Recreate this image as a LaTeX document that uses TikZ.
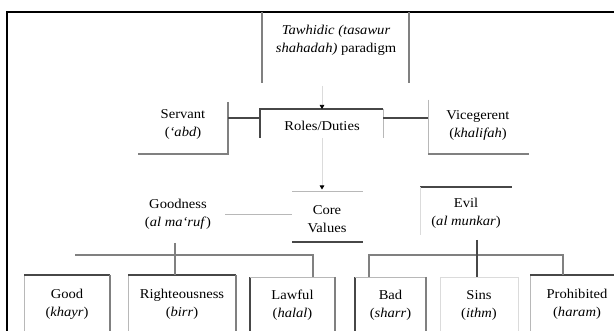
\documentclass[tikz,border=0pt]{standalone}
\usepackage{fontspec}
\setmainfont[FakeStretch=1.08]{Liberation Serif}
\usetikzlibrary{arrows.meta}
\begin{document}
\begin{tikzpicture}[x=1pt,y=-1pt,
 box/.style={inner sep=0pt, outer sep=0pt, minimum width=#1},
 txt/.style={align=center, font=\fontsize{13.5}{18}\selectfont, inner sep=0pt},
 dk/.style={draw=black!72, line width=1.4pt},
 md/.style={draw=black!50, line width=1.1pt},
 lt/.style={draw=black!28, line width=0.8pt},
 vl/.style={draw=black!14, line width=0.7pt},
 arr/.style={-{Triangle[length=4pt,width=4.5pt,black]}},
]
\useasboundingbox (0,0) rectangle (614,331);
\clip (0,0) rectangle (614,331);
\fill[white] (0,0) rectangle (614,331);
% outer frame
\draw[black, line width=2pt] (7,340) -- (7,12) -- (620,12);

% box shapes
\node[box=147, minimum height=71] (top) at (335.5,47.5) {};
\node[box=123, minimum height=29] (roles) at (321.5,123.5) {};
\node[box=90, minimum height=52] (servant) at (183,128) {};
\node[box=101, minimum height=54] (vice) at (478.5,127) {};
\node[box=71, minimum height=51] (core) at (327.5,216.5) {};
\node[box=92, minimum height=48] (evil) at (466,211) {};
\node[box=86, minimum height=70] (good) at (67,310) {};
\node[box=108, minimum height=70] (right) at (182,310) {};
\node[box=85, minimum height=68] (lawful) at (292.5,311) {};
\node[box=71, minimum height=68] (bad) at (390.5,311) {};
\node[box=78, minimum height=68] (sins) at (479,311) {};
\node[box=94, minimum height=70] (prohib) at (577,310) {};

% texts
\node[txt] (top-t) at (336,40) {\textit{Tawhidic (tasawur}\\\textit{shahadah)} paradigm};
\node[txt] (roles-t) at (322,126) {Roles/Duties};
\node[txt] (servant-t) at (183,124.5) {Servant\\(\textit{‘abd})};
\node[txt] (vice-t) at (478,125) {Vicegerent\\(\textit{khalifah})};
\node[txt] (core-t) at (327,219) {Core\\Values};
\node[txt] (goodness-t) at (178,214.5) {Goodness\\(\textit{al ma‘ruf})};
\node[txt] (evil-t) at (466,213.5) {Evil\\(\textit{al munkar})};
\node[txt] (good-t) at (67,304) {Good\\(\textit{khayr})};
\node[txt] (right-t) at (182,304) {Righteousness\\(\textit{birr})};
\node[txt] (lawful-t) at (292.5,305) {Lawful\\(\textit{halal})};
\node[txt] (bad-t) at (390.5,305) {Bad\\(\textit{sharr})};
\node[txt] (sins-t) at (479,305) {Sins\\(\textit{ithm})};
\node[txt] (prohib-t) at (577,304) {Prohibited\\(\textit{haram})};

% top box sides
\draw[md] (top.north west) -- (top.south west);
\draw[md] (top.north east) -- (top.south east);
% roles box
\draw[dk] (roles.south west) -- (roles.north west) -- (roles.north east);
\draw[lt] (roles.north east) -- (roles.south east);
% servant box
\draw[md] (servant.north east) -- (servant.south east) -- (servant.south west);
% vicegerent box
\draw[lt] (vice.north west) -- (vice.south west);
\draw[md] (vice.south west) -- (vice.south east);
% core box
\draw[lt] (core.north west) -- (core.north east);
\draw[dk] (core.south west) -- (core.south east);
% evil box
\draw[dk] (evil.north west) -- (evil.north east);
\draw[vl] (evil.north west) -- (evil.south west);
% bottom boxes
\draw[lt] (good.south west) -- (good.north west);
\draw[dk] (good.north west) -- (good.north east);
\draw[md] (good.north east) -- (good.south east);
\draw[lt] (right.south west) -- (right.north west);
\draw[dk] (right.north west) -- (right.north east);
\draw[md] (right.north east) -- (right.south east);
\draw[dk] (lawful.south west) -- (lawful.north west);
\draw[lt] (lawful.north west) -- (lawful.north east);
\draw[md] (lawful.north east) -- (lawful.south east);
\draw[dk] (bad.south west) -- (bad.north west);
\draw[lt] (bad.north west) -- (bad.north east);
\draw[md] (bad.north east) -- (bad.south east);
\draw[vl] (sins.south west) -- (sins.north west) -- (sins.north east) -- (sins.south east);
\draw[lt] (prohib.south west) -- (prohib.north west);
\draw[dk] (prohib.north west) -- (prohib.north east);

% connectors
\coordinate (a1) at (322,86);
\draw[vl, arr] (a1) -- (a1 |- roles.north);
\draw[dk] ([yshift=5.5pt]roles.west) -- ([yshift=5.5pt]roles.west -| servant.east);
\draw[dk] ([yshift=5.5pt]roles.east) -- ([yshift=5.5pt]roles.east -| vice.west);
\coordinate (a2) at (322,138);
\draw[vl, arr] (a2) -- ([yshift=1.5pt]a2 |- core.north);
\coordinate (gc) at (225,214);
\draw[lt] (gc) -- (gc -| core.west);
% left bracket
\coordinate (lb) at (75,255);
\draw[md] (lb) -- (lb -| 313,0) -- (313,0 |- lawful.north);
\coordinate (gs) at (175,243);
\draw[md] (gs) -- (gs |- right.north);
% right bracket
\coordinate (rb) at (563,255);
\draw[md] (369,0 |- bad.north) -- (369,0 |- rb) -- (rb) -- (rb |- prohib.north);
\coordinate (es) at (477,240);
\draw[dk] (es) -- (es |- sins.north);
\end{tikzpicture}
\end{document}
